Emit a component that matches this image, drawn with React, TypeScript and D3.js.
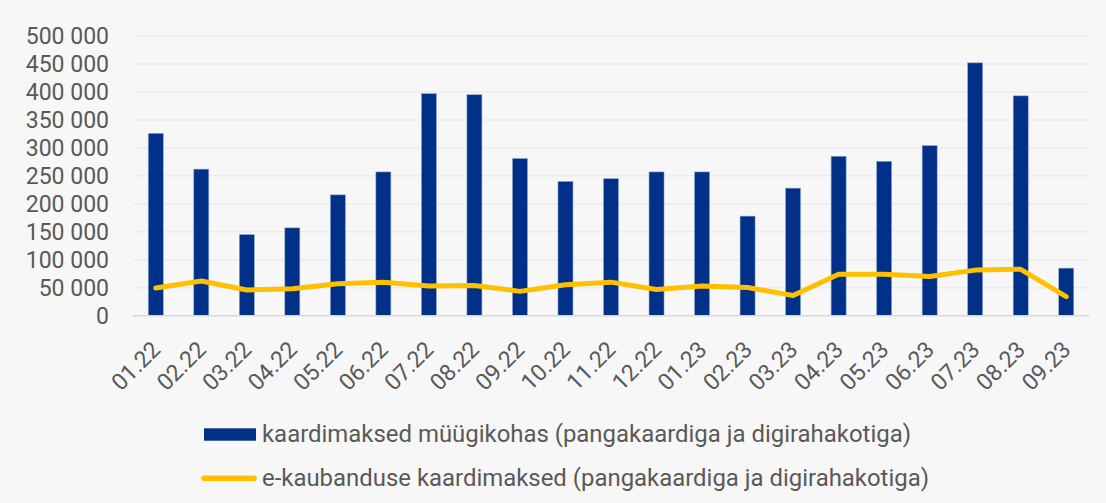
import React from "react";
import * as d3 from "d3";

const categories = ["01.22","02.22","03.22","04.22","05.22","06.22","07.22","08.22","09.22","10.22","11.22","12.22","01.23","02.23","03.23","04.23","05.23","06.23","07.23","08.23","09.23"];
const inStoreValues = [326000,262000,145000,157000,216000,257000,397000,395000,281000,240000,245000,257000,257000,178000,228000,285000,276000,304000,452000,393000,85000];
const ecomValues = [49500,62000,46000,48000,57000,60000,53000,54000,43500,55500,60000,47000,53000,50500,36000,74000,74000,70000,81500,83000,34000];
const yTicks = [0,50000,100000,150000,200000,250000,300000,350000,400000,450000,500000];
const seriesNames = ["kaardimaksed müügikohas (pangakaardiga ja digirahakotiga)", "e-kaubanduse kaardimaksed (pangakaardiga ja digirahakotiga)"];

const W = 1106, H = 503;
const plot = { left: 133, right: 1089, top: 36, bottom: 315.7 };
const font = "Roboto, 'Noto Sans', sans-serif";
const textColor = "#595959";

const fmt = (v: number) => v === 0 ? "0" : d3.format(",")(v).replace(/,/g, " ");

export default function App() {
  const x = d3.scaleBand<string>().domain(categories).range([plot.left, plot.right]).paddingInner(0).paddingOuter(0);
  const y = d3.scaleLinear().domain([0, 500000]).range([plot.bottom, plot.top]);
  const barW = 15;
  const line = d3.line<number>().x((_, i) => (x(categories[i]) as number) + x.bandwidth() / 2).y(d => y(d));

  return (
    <svg width={W} height={H} style={{ position: "absolute", left: 0, top: 0, display: "block" }} fontFamily={font}>
      <rect x={0} y={0} width={W} height={H} fill="#f7f7f7" />
      {yTicks.map(t => (
        <g key={t}>
          {t !== 0 && <line x1={plot.left} x2={plot.right} y1={y(t)} y2={y(t)} stroke="#ececec" strokeWidth={1.5} />}
          <text x={109} y={y(t)} dy="0.36em" textAnchor="end" fontSize={23} fill={textColor}>{fmt(t)}</text>
        </g>
      ))}
      {categories.map((c, i) => {
        const cx = (x(c) as number) + x.bandwidth() / 2;
        return (
          <rect key={c} x={cx - barW / 2} y={y(inStoreValues[i])} width={barW} height={plot.bottom - y(inStoreValues[i])}
            fill="#003087" stroke="#8fa6cf" strokeWidth={0.6} />
        );
      })}
      <line x1={plot.left} x2={plot.right} y1={plot.bottom} y2={plot.bottom} stroke="#d9d9d9" strokeWidth={1.5} />
      <path d={line(ecomValues) || ""} fill="none" stroke="#FFC000" strokeWidth={5} strokeLinejoin="round" strokeLinecap="round" />
      {categories.map(c => {
        const cx = (x(c) as number) + x.bandwidth() / 2;
        return (
          <text key={c} transform={`translate(${cx + 6},351) rotate(-45)`} textAnchor="end" fontSize={23} fill={textColor}>{c}</text>
        );
      })}
      <g>
        <rect x={204} y={428.3} width={52} height={12.4} fill="#003087" />
        <text x={262} y={441.7} fontSize={23.5} fill={textColor} textLength={649} lengthAdjust="spacingAndGlyphs">{seriesNames[0]}</text>
        <line x1={204} x2={254} y1={478.3} y2={478.3} stroke="#FFC000" strokeWidth={5.5} strokeLinecap="round" />
        <text x={262} y={485.7} fontSize={23.5} fill={textColor} textLength={667} lengthAdjust="spacingAndGlyphs">{seriesNames[1]}</text>
      </g>
    </svg>
  );
}
